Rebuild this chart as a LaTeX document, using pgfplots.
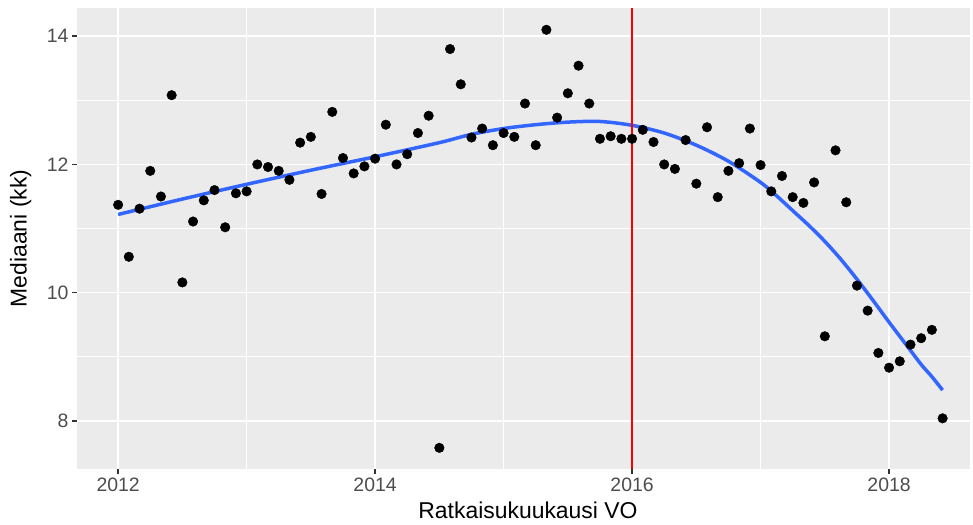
\documentclass[border=0pt]{standalone}
\usepackage{pgfplots}
\pgfplotsset{compat=1.18}
\usepackage{pgfplotstable}
\usepackage{fontspec}
\setmainfont{Liberation Sans}
\definecolor{panel}{HTML}{EBEBEB}
\definecolor{ticklab}{HTML}{4D4D4D}
\definecolor{tickc}{HTML}{333333}
\definecolor{smoothc}{HTML}{3366FF}

\pgfplotstableread{
x y
2012.0000 11.37
2012.0833 10.56
2012.1667 11.31
2012.2500 11.90
2012.3333 11.50
2012.4167 13.08
2012.5000 10.16
2012.5833 11.11
2012.6667 11.44
2012.7500 11.60
2012.8333 11.02
2012.9167 11.55
2013.0000 11.58
2013.0833 12.00
2013.1667 11.96
2013.2500 11.90
2013.3333 11.76
2013.4167 12.34
2013.5000 12.43
2013.5833 11.54
2013.6667 12.82
2013.7500 12.10
2013.8333 11.86
2013.9167 11.97
2014.0000 12.09
2014.0833 12.62
2014.1667 12.00
2014.2500 12.16
2014.3333 12.49
2014.4167 12.76
2014.5000 7.58
2014.5833 13.80
2014.6667 13.25
2014.7500 12.42
2014.8333 12.56
2014.9167 12.30
2015.0000 12.49
2015.0833 12.43
2015.1667 12.95
2015.2500 12.30
2015.3333 14.10
2015.4167 12.73
2015.5000 13.11
2015.5833 13.54
2015.6667 12.95
2015.7500 12.40
2015.8333 12.44
2015.9167 12.40
2016.0000 12.40
2016.0833 12.54
2016.1667 12.35
2016.2500 12.00
2016.3333 11.93
2016.4167 12.38
2016.5000 11.70
2016.5833 12.58
2016.6667 11.49
2016.7500 11.90
2016.8333 12.02
2016.9167 12.56
2017.0000 11.99
2017.0833 11.58
2017.1667 11.82
2017.2500 11.49
2017.3333 11.40
2017.4167 11.72
2017.5000 9.32
2017.5833 12.22
2017.6667 11.41
2017.7500 10.11
2017.8333 9.72
2017.9167 9.06
2018.0000 8.83
2018.0833 8.93
2018.1667 9.19
2018.2500 9.29
2018.3333 9.42
2018.4167 8.04
}\pointsdata

\pgfplotstableread{
x y
2012.0000 11.22
2012.5000 11.46
2013.0000 11.69
2013.5000 11.91
2014.0000 12.12
2014.5000 12.34
2014.7500 12.47
2015.0000 12.56
2015.2500 12.62
2015.5000 12.66
2015.7500 12.67
2016.0000 12.61
2016.2500 12.49
2016.5000 12.30
2016.7500 12.05
2017.0000 11.72
2017.1250 11.51
2017.2500 11.28
2017.3750 11.05
2017.5000 10.80
2017.6250 10.52
2017.7500 10.21
2017.8750 9.88
2018.0000 9.54
2018.1250 9.21
2018.2500 8.88
2018.3333 8.69
2018.4167 8.48
}\smoothdata

\begin{document}
\begin{tikzpicture}
\begin{axis}[
  scale only axis, width=893bp, height=461bp,
  xmin=2011.68, xmax=2018.63, ymin=7.25, ymax=14.44,
  axis background/.style={fill=panel},
  axis line style={draw=none},
  xtick={2012,2014,2016,2018}, ytick={8,10,12,14},
  minor xtick={2013,2015,2017}, minor ytick={9,11,13},
  grid=both,
  major grid style={white, line width=1.6bp},
  minor grid style={white, line width=0.8bp},
  tick align=outside, xtick pos=bottom, ytick pos=left,
  major tick length=5bp, minor tick length=0pt,
  every tick/.style={tickc, line width=1.5bp},
  /pgf/number format/1000 sep={},
  /pgf/number format/assume math mode=true,
  ticklabel style={font=\fontsize{19.5}{23}\selectfont, text=ticklab},
  xlabel={Ratkaisukuukausi VO}, ylabel={Mediaani (kk)},
  xlabel style={font=\fontsize{23}{27}\selectfont, at={(axis description cs:0.505,-0.107)}, anchor=base},
  ylabel style={font=\fontsize{23}{27}\selectfont, at={(axis description cs:-0.05633,0.5)}, anchor=base},
  clip=true,
]
\addplot[only marks, mark=*, mark size=4.8bp, black, mark options={fill=black, draw=black}] table[x=x,y=y] {\pointsdata};
\addplot[smoothc, line width=3.5bp, smooth, no marks] table[x=x,y=y] {\smoothdata};
\addplot[red, line width=2.2bp, no marks] coordinates {(2016,7.25) (2016,14.44)};
\end{axis}
\pgfresetboundingbox
\path (current axis.south west) ++(-77bp,-55bp) rectangle ([xshift=3bp,yshift=8bp]current axis.north east);
\end{tikzpicture}
\end{document}
